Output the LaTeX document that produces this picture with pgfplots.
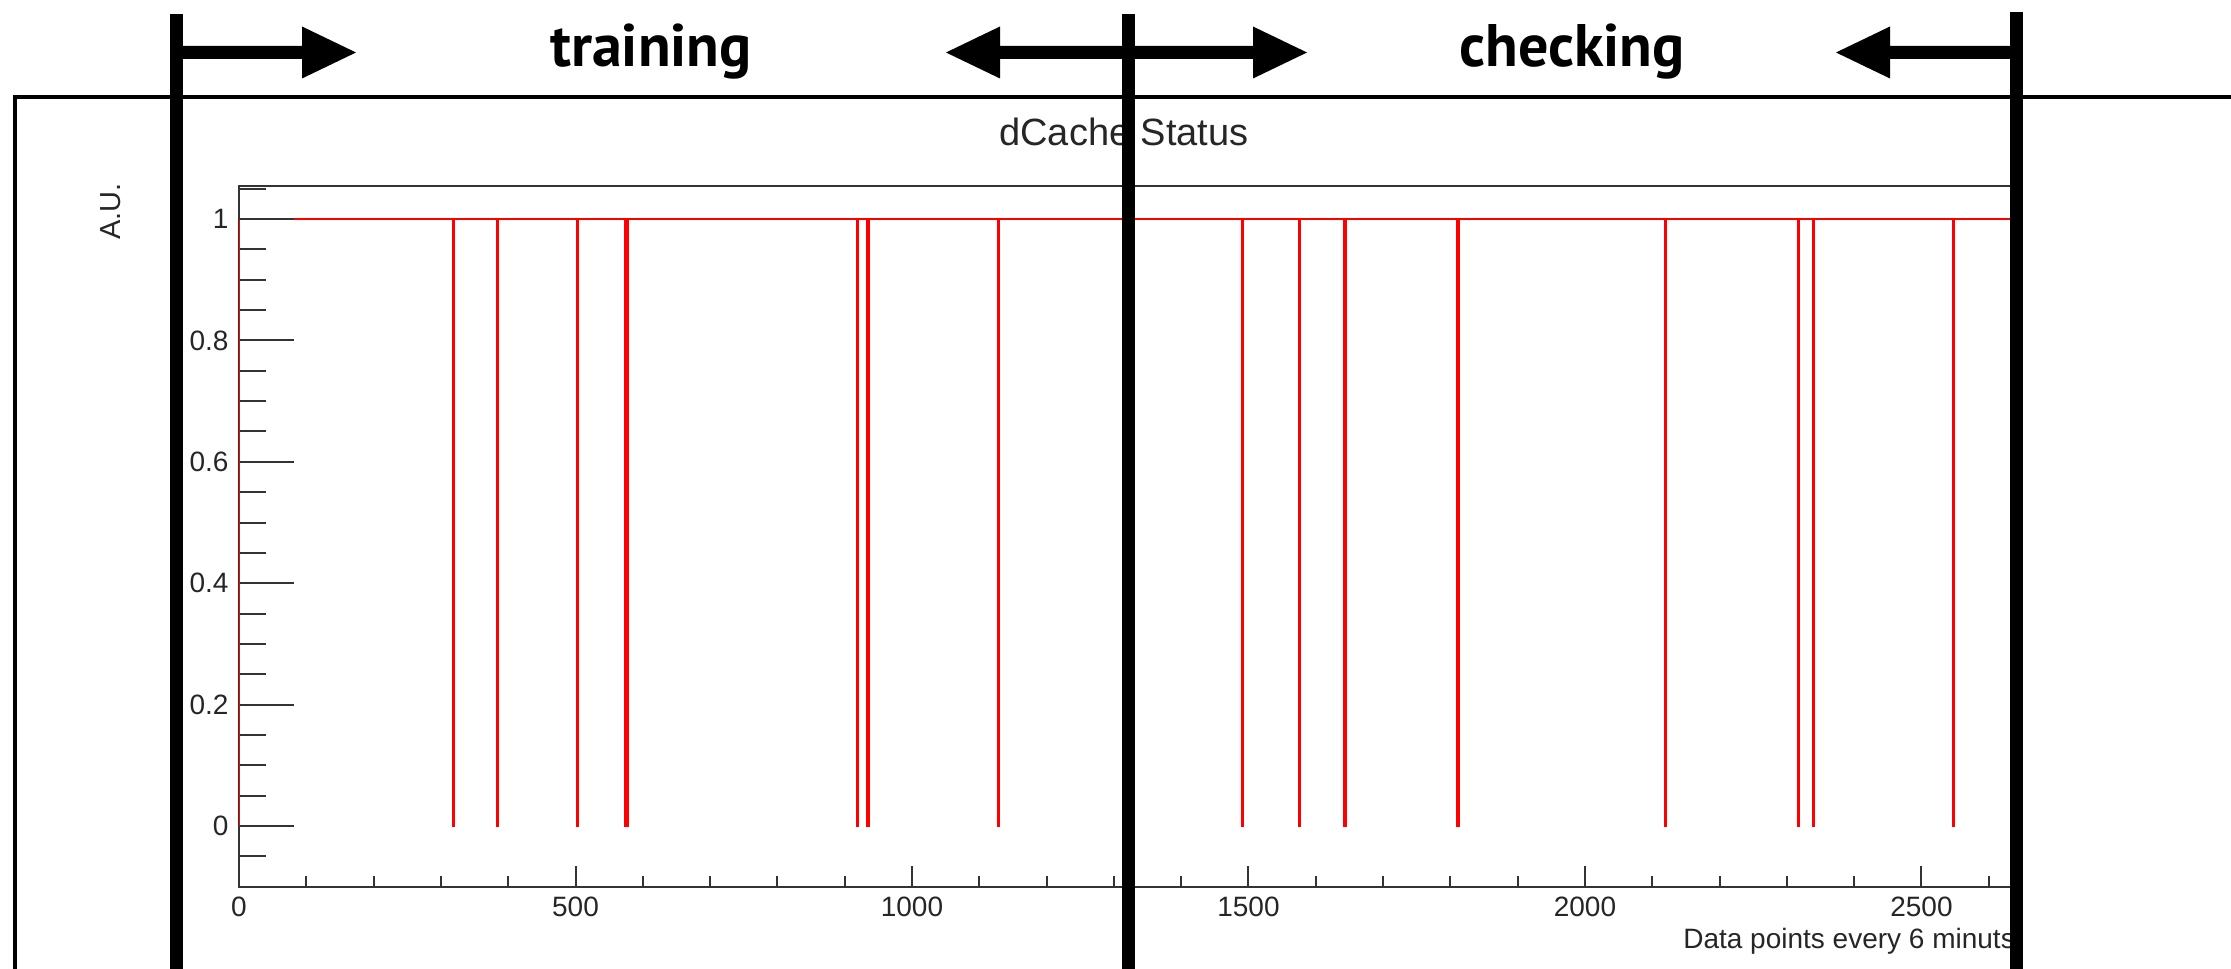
\documentclass[border=0pt]{standalone}
\usepackage{pgfplots}
\pgfplotsset{compat=1.18}
\usepackage{fontspec}
\setmainfont{Liberation Sans}
\newfontfamily\arrowfont{PT Sans}
\definecolor{axgray}{gray}{0.2}
\begin{document}
\begin{tikzpicture}[x=1pt,y=1pt]
\path[use as bounding box] (0,0) rectangle (2231,969);
% outer frame
\draw[line width=4pt] (15,0) -- (15,872) -- (2231,872);
\pgfplotsset{
  rootax/.style={
    at={(239pt,82.3pt)}, anchor=south west,
    scale only axis, width=1774pt, height=701pt,
    xmin=0, xmax=2636, ymin=-0.1, ymax=1.055,
    axis line style={draw=axgray, line width=2pt},
    every tick/.style={draw=axgray, line width=2pt},
    tick align=inside,
    xtick pos=bottom, ytick pos=left,
    /pgf/number format/assume math mode=true,
    tick label style={font=\fontsize{28}{34}\selectfont, text=black!85},
  }
}
\begin{axis}[rootax,
  xtick=\empty,
  ytick={0,0.2,0.4,0.6,0.8,1},
  yticklabels={0,0.2,0.4,0.6,0.8,1},
  minor ytick={-0.05,0.05,0.1,0.15,0.25,0.3,0.35,0.45,0.5,0.55,0.65,0.7,0.75,0.85,0.9,0.95,1.05},
  major tick length=55pt, minor tick length=27pt,
  yticklabel style={xshift=-7pt},
]
\addplot[red, line width=2.5pt] coordinates {
(0,0)(0,1)
(318,1)(318,0)(319,0)(319,1)
(384,1)(384,0)(385,0)(385,1)
(503,1)(503,0)(504,0)(504,1)
(574,1)(574,0)(577,0)(577,1)
(919,1)(919,0)(920,0)(920,1)
(934,1)(934,0)(935,0)(935,1)
(1128,1)(1128,0)(1129,0)(1129,1)
(1490,1)(1490,0)(1491,0)(1491,1)
(1575,1)(1575,0)(1576,0)(1576,1)
(1643,1)(1643,0)(1644,0)(1644,1)
(1810,1)(1810,0)(1813,0)(1813,1)
(2119,1)(2119,0)(2120,0)(2120,1)
(2317,1)(2317,0)(2318,0)(2318,1)
(2339,1)(2339,0)(2340,0)(2340,1)
(2547,1)(2547,0)(2548,0)(2548,1)
(2636,1)
};
\end{axis}
\begin{axis}[rootax,
  axis line style={draw=none},
  ytick=\empty,
  extra y ticks={1}, extra y tick labels={},
  extra y tick style={major tick length=55pt, tick style={draw=axgray, line width=2.6pt}},
  xtick={0,500,1000,1500,2000,2500},
  xticklabels={0,500,1000,1500,2000,2500},
  minor xtick={100,200,300,400,600,700,800,900,1100,1200,1300,1400,1600,1700,1800,1900,2100,2200,2300,2400,2600},
  major tick length=21pt, minor tick length=10.5pt,
  xticklabel style={yshift=-7pt},
]
\addplot[draw=none] coordinates {(0,0)(2636,1)};
\end{axis}
% titles
\node[font=\fontsize{38}{45}\selectfont, text=black!85] at (1124,837) {dCache Status};
\node[font=\fontsize{29}{34}\selectfont, text=black!85, rotate=90, anchor=east, inner sep=0pt] at (111,786) {A.U.};
\node[font=\fontsize{28}{34}\selectfont, text=black!85, anchor=base east, inner sep=0pt] at (2015,20) {Data points every 6 minuts};
% bars
\fill (170.2,0) rectangle (182.8,955);
\fill (1122.2,0) rectangle (1134.8,955);
\fill (2010.4,0) rectangle (2023,957);
% arrows
\fill (176,910) -- (302,910) -- (302,890.5) -- (356,916.5) -- (302,942.5) -- (302,923) -- (176,923) -- cycle;
\fill (1128,910) -- (1000,910) -- (1000,890.5) -- (946,916.5) -- (1000,942.5) -- (1000,923) -- (1128,923) -- cycle;
\fill (1128,910) -- (1253,910) -- (1253,890.5) -- (1307,916.5) -- (1253,942.5) -- (1253,923) -- (1128,923) -- cycle;
\fill (2016,910) -- (1890,910) -- (1890,890.5) -- (1836,916.5) -- (1890,942.5) -- (1890,923) -- (2016,923) -- cycle;
\node[font=\arrowfont\bfseries\fontsize{60}{72}\selectfont, anchor=base, inner sep=0pt] at (651,902) {training};
\node[font=\arrowfont\bfseries\fontsize{60}{72}\selectfont, anchor=base, inner sep=0pt] at (1572,902) {checking};
\end{tikzpicture}
\end{document}
